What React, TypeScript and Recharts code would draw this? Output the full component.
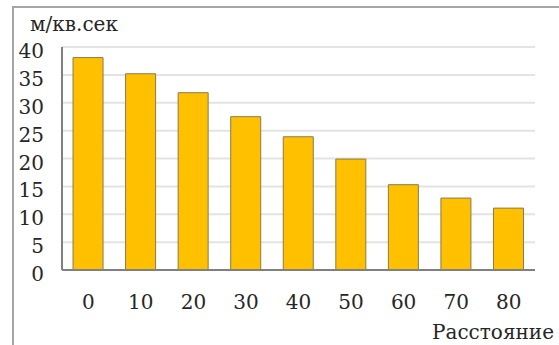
import { Bar, BarChart, CartesianGrid, XAxis, YAxis } from "recharts";

// Distance (x) vs. value in м/кв.сек (y).
const DISTANCES = ["0", "10", "20", "30", "40", "50", "60", "70", "80"];
const VALUES = [38.1, 35.2, 31.8, 27.5, 23.9, 19.9, 15.3, 12.9, 11.1];
const Y_TICKS = [0, 5, 10, 15, 20, 25, 30, 35, 40];

const FONT = "'DejaVu Serif', 'Liberation Serif', serif";
const TEXT_COLOR = "#262626";
const TICK = { fontSize: 20, fill: TEXT_COLOR, fontFamily: FONT };

const data = DISTANCES.map((name, i) => ({ name, value: VALUES[i] }));

export default function App() {
  return (
    <div
      style={{
        position: "absolute",
        left: 0,
        top: 0,
        width: 559,
        height: 345,
        background: "#fff",
        overflow: "hidden",
        fontFamily: FONT,
        color: TEXT_COLOR,
      }}
    >
      {/* frame of the chart area: only top and left edges are visible */}
      <div
        style={{
          position: "absolute",
          left: 12,
          top: 6,
          width: 600,
          height: 400,
          borderTop: "2px solid #a6a6a6",
          borderLeft: "2px solid #a6a6a6",
        }}
      />
      <BarChart
        width={559}
        height={345}
        data={data}
        margin={{ top: 47, right: 24, bottom: 0, left: 0 }}
        barCategoryGap="21%"
        style={{ position: "absolute", left: 0, top: 0 }}
      >
        <CartesianGrid vertical={false} stroke="#e3e3e3" strokeWidth={2} />
        <XAxis
          dataKey="name"
          height={75}
          tick={TICK}
          tickLine={false}
          tickSize={0}
          tickMargin={25}
          axisLine={{ stroke: "#808080", strokeWidth: 2 }}
          interval={0}
        />
        <YAxis
          width={62}
          domain={[0, 40]}
          ticks={Y_TICKS}
          interval={0}
          tick={{ ...TICK, dy: 4 }}
          tickLine={false}
          tickSize={0}
          tickMargin={18}
          axisLine={{ stroke: "#808080", strokeWidth: 2 }}
        />
        <Bar
          dataKey="value"
          fill="#ffc000"
          stroke="#8a7a4c"
          strokeWidth={1}
          isAnimationActive={false}
        />
      </BarChart>
      <div style={{ position: "absolute", left: 30, top: 12, fontSize: 20 }}>
        м/кв.сек
      </div>
      <div style={{ position: "absolute", left: 432, top: 320, fontSize: 20 }}>
        Расстояние
      </div>
    </div>
  );
}
